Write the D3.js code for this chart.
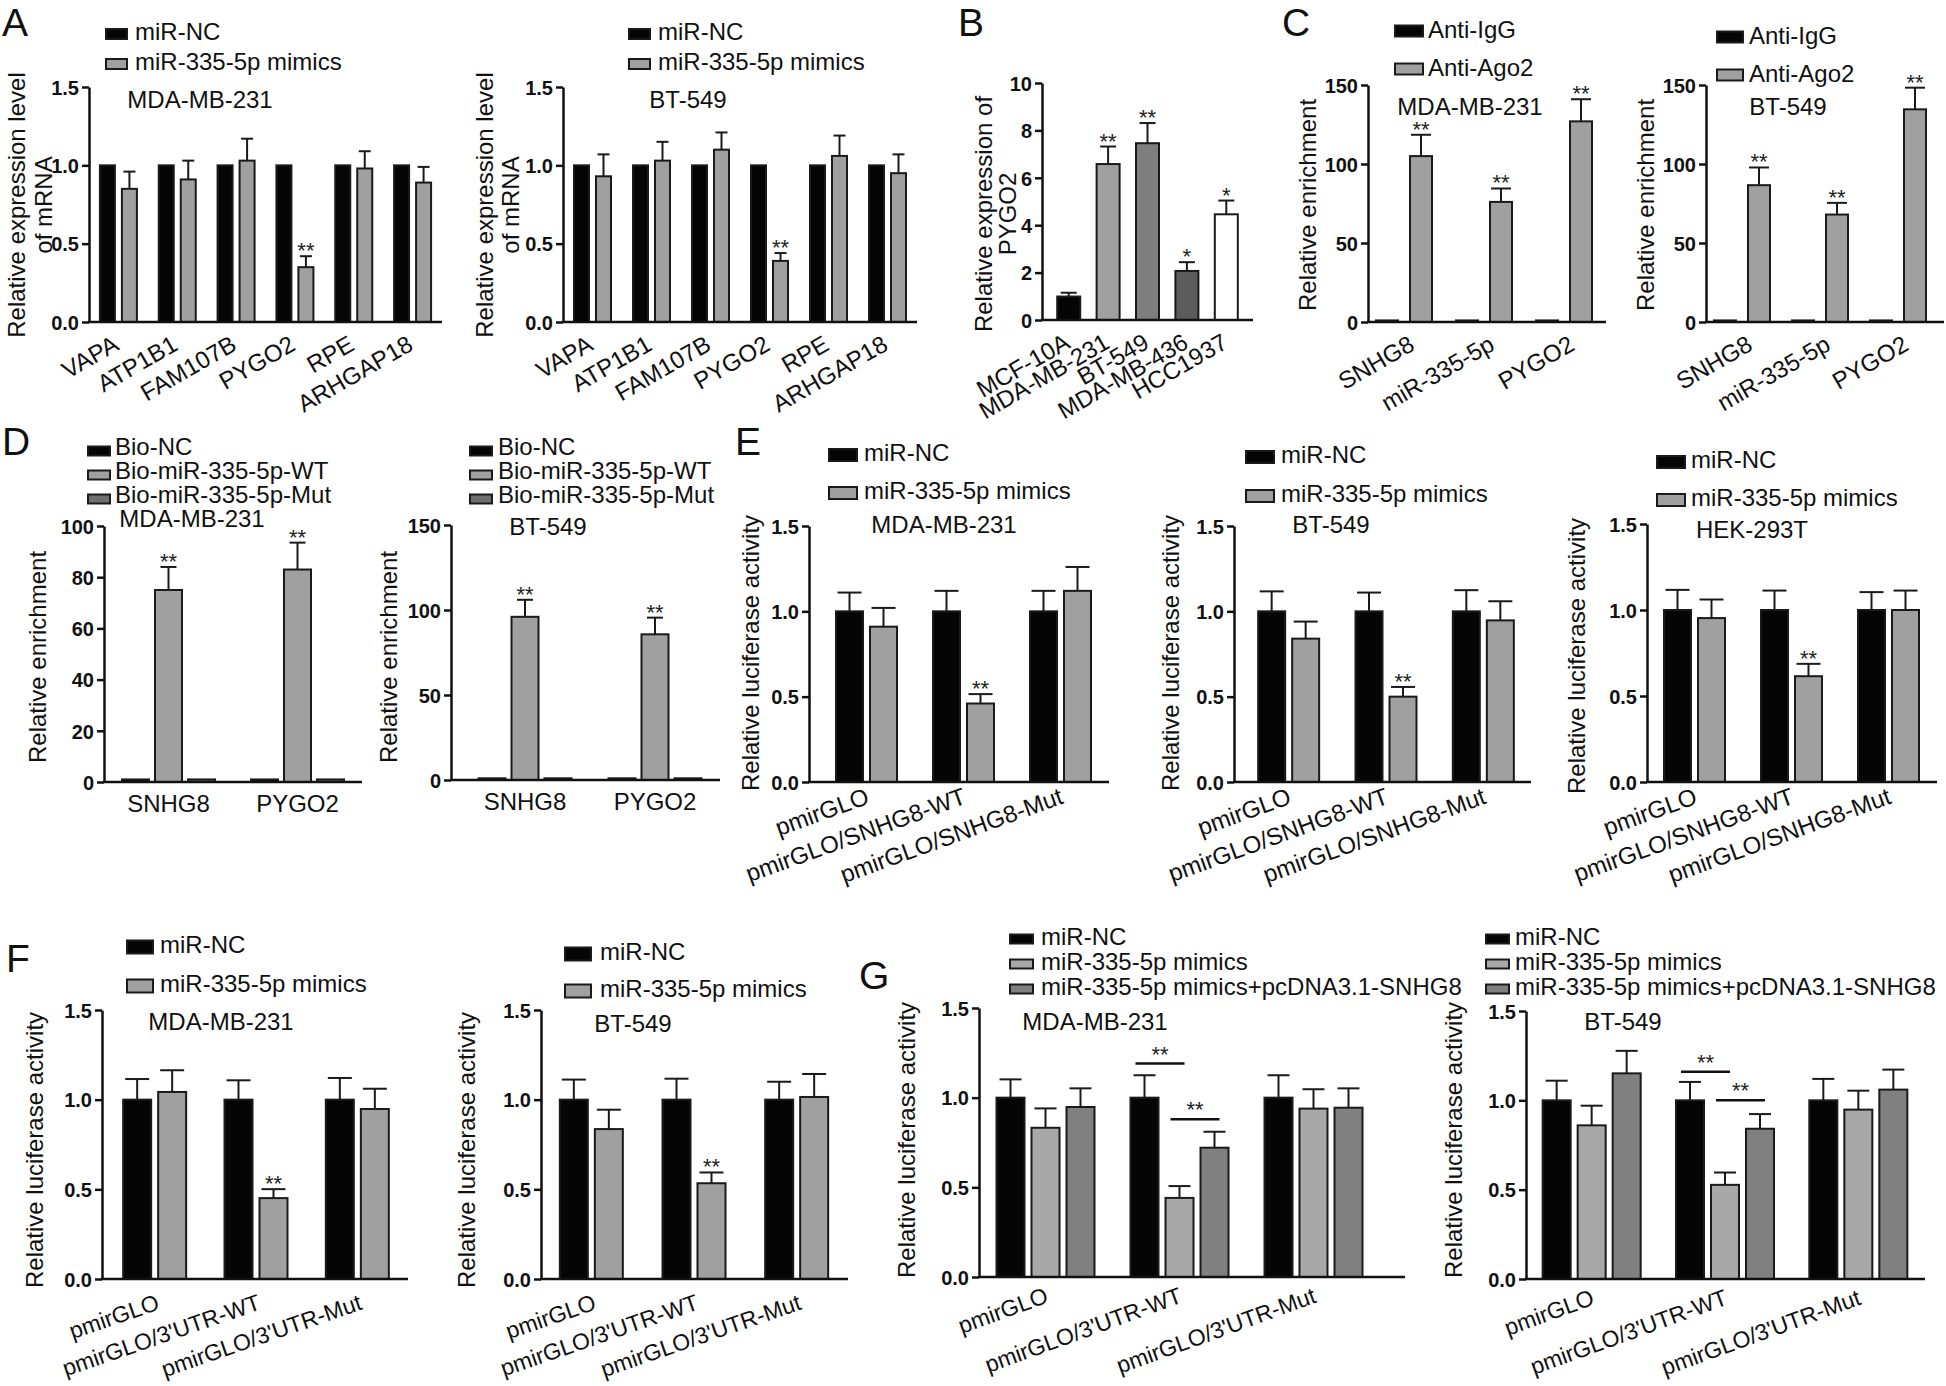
<!DOCTYPE html>
<html>
<head>
<meta charset="utf-8">
<script src="https://cdn.jsdelivr.net/npm/d3@7"></script>
<style>
  body { margin: 0; background: #fff; }
  text { font-family: "Liberation Sans", Arial, Helvetica, sans-serif; }
</style>
</head>
<body>
<svg id="fig"></svg>
<script>
const W = 1946, H = 1386;

// ---- data ----
// A: candidate targets, qPCR after miR-335-5p mimics
const genes = ["VAPA", "ATP1B1", "FAM107B", "PYGO2", "RPE", "ARHGAP18"];
const aMdaNC = [1, 1, 1, 1, 1, 1];
const aMdaMim = [0.85, 0.91, 1.03, 0.35, 0.98, 0.89];
const aMdaMimErr = [0.11, 0.12, 0.14, 0.07, 0.11, 0.10];
const aBtNC = [1, 1, 1, 1, 1, 1];
const aBtMim = [0.93, 1.03, 1.10, 0.39, 1.06, 0.95];
const aBtMimErr = [0.14, 0.12, 0.11, 0.05, 0.13, 0.12];
const aStars = ["", "", "", "**", "", ""];

// B: PYGO2 expression in cell lines
const cellLines = ["MCF-10A", "MDA-MB-231", "BT-549", "MDA-MB-436", "HCC1937"];
const bPygo2 = [0.99, 6.58, 7.46, 2.07, 4.46];
const bPygo2Err = [0.16, 0.74, 0.85, 0.37, 0.58];
const bStars = ["", "**", "**", "*", "*"];

// C: RIP
const ripTargets = ["SNHG8", "miR-335-5p", "PYGO2"];
const cMdaIgG = [1, 1, 1];
const cMdaAgo2 = [105, 76, 127];
const cMdaAgo2Err = [13.5, 8.5, 14];
const cBtIgG = [1, 1, 1];
const cBtAgo2 = [86.6, 68, 134.6];
const cBtAgo2Err = [11.2, 7.4, 13.7];
const cStars = ["**", "**", "**"];

// D: RNA pull-down
const pullTargets = ["SNHG8", "PYGO2"];
const dMdaNC = [1, 1];
const dMdaWT = [75, 83];
const dMdaWTErr = [9, 10.5];
const dMdaMut = [1, 1];
const dBtNC = [1, 1];
const dBtWT = [96, 85.7];
const dBtWTErr = [10, 9.8];
const dBtMut = [1, 1];
const dStars = ["**", "**"];

// E: luciferase, SNHG8 reporters
const snhgVectors = ["pmirGLO", "pmirGLO/SNHG8-WT", "pmirGLO/SNHG8-Mut"];
const eMdaNC = [1, 1, 1];
const eMdaNCErr = [0.11, 0.12, 0.12];
const eMdaMim = [0.91, 0.46, 1.12];
const eMdaMimErr = [0.11, 0.055, 0.14];
const eBtNC = [1, 1, 1];
const eBtNCErr = [0.117, 0.11, 0.124];
const eBtMim = [0.84, 0.50, 0.947];
const eBtMimErr = [0.10, 0.057, 0.112];
const eHekNC = [1, 1, 1];
const eHekNCErr = [0.117, 0.113, 0.104];
const eHekMim = [0.953, 0.615, 1.0];
const eHekMimErr = [0.108, 0.072, 0.113];
const luxStars = ["", "**", ""];

// F: luciferase, PYGO2 3'UTR reporters
const utrVectors = ["pmirGLO", "pmirGLO/3'UTR-WT", "pmirGLO/3'UTR-Mut"];
const fMdaNC = [1, 1, 1];
const fMdaNCErr = [0.115, 0.108, 0.121];
const fMdaMim = [1.043, 0.451, 0.948];
const fMdaMimErr = [0.121, 0.05, 0.113];
const fBtNC = [1, 1, 1];
const fBtNCErr = [0.112, 0.117, 0.10];
const fBtMim = [0.836, 0.534, 1.015];
const fBtMimErr = [0.108, 0.06, 0.128];

// G: rescue with pcDNA3.1-SNHG8
const gMdaNC = [1, 1, 1];
const gMdaNCErr = [0.102, 0.125, 0.125];
const gMdaMim = [0.832, 0.441, 0.939];
const gMdaMimErr = [0.108, 0.066, 0.108];
const gMdaRes = [0.948, 0.721, 0.944];
const gMdaResErr = [0.104, 0.089, 0.108];
const gBtNC = [1, 1, 1];
const gBtNCErr = [0.11, 0.103, 0.12];
const gBtMim = [0.86, 0.527, 0.948];
const gBtMimErr = [0.11, 0.069, 0.106];
const gBtRes = [1.151, 0.841, 1.06];
const gBtResErr = [0.126, 0.082, 0.112];
const gMdaBracketY = [1.19, 0.88];
const gBtBracketY = [1.16, 1.0];

const BLACK = "#050505", GRAY = "#a0a0a0", LGRAY = "#a8a8a8", DGRAY = "#808080";

const svg = d3.select("#fig").attr("width", W).attr("height", H);
svg.append("rect").attr("width", W).attr("height", H).attr("fill", "#fff");

function panel(c) {
  const g = svg.append("g");
  const y = d3.scaleLinear().domain([0, c.yMax]).range([c.yZero, c.yTop]);
  const x = d3.scaleBand().domain(c.cats).range(c.band);
  const n = c.series.length;
  const step = c.barW + c.gap;
  const barX = (si, i) => x(c.cats[i]) + x.bandwidth() / 2 + (si - (n - 1) / 2) * step;

  c.series.forEach((s, si) => {
    s.vals.forEach((v, i) => {
      const cx = barX(si, i);
      const fill = Array.isArray(s.fill) ? s.fill[i] : s.fill;
      g.append("rect")
        .attr("x", cx - c.barW / 2 + 1).attr("width", c.barW - 2)
        .attr("y", y(v)).attr("height", Math.max(0.5, c.yZero - y(v)))
        .attr("fill", fill).attr("stroke", "#1a1a1a").attr("stroke-width", 2);
      let top = y(v);
      if (s.err && s.err[i] > 0) {
        top = y(v + s.err[i]);
        g.append("line").attr("x1", cx).attr("x2", cx).attr("y1", y(v)).attr("y2", top)
          .attr("stroke", "#1a1a1a").attr("stroke-width", 2);
        g.append("line").attr("x1", cx - c.capW / 2).attr("x2", cx + c.capW / 2)
          .attr("y1", top).attr("y2", top).attr("stroke", "#1a1a1a").attr("stroke-width", 2);
      }
      if (s.stars && s.stars[i]) {
        g.append("text").attr("x", cx).attr("y", top + 2).attr("text-anchor", "middle")
          .attr("font-size", 22).attr("fill", "#222").text(s.stars[i]);
      }
    });
  });

  // significance brackets (panel G)
  if (c.brackets) {
    c.brackets.forEach(b => {
      const x1 = barX(b.a, b.group) - 9, x2 = barX(b.b, b.group) + 5, yy = y(b.at);
      g.append("line").attr("x1", x1).attr("x2", x2).attr("y1", yy).attr("y2", yy)
        .attr("stroke", "#111").attr("stroke-width", 2.5);
      g.append("text").attr("x", (x1 + x2) / 2).attr("y", yy - 2).attr("text-anchor", "middle")
        .attr("font-size", 22).attr("fill", "#222").text("**");
    });
  }

  // axes
  g.append("g").attr("transform", `translate(${c.x0},0)`)
    .call(d3.axisLeft(y).tickValues(c.ticks).tickFormat(d3.format(c.fmt))
      .tickSize(7).tickSizeOuter(0).tickPadding(3))
    .call(a => {
      a.select(".domain").attr("stroke", "#111").attr("stroke-width", 2.5);
      a.selectAll(".tick line").attr("stroke", "#111").attr("stroke-width", 2.5);
      a.selectAll(".tick text").attr("font-size", 20).attr("font-weight", "bold")
        .attr("fill", "#111").attr("dy", "0.36em");
    });
  g.append("line").attr("x1", c.x0 - 1).attr("x2", c.axisEnd)
    .attr("y1", c.yZero).attr("y2", c.yZero)
    .attr("stroke", "#111").attr("stroke-width", 2.5);

  // category labels
  c.cats.forEach(cat => {
    const cx = x(cat) + x.bandwidth() / 2;
    const t = g.append("text").attr("font-size", c.xlab.fs || 24).attr("fill", "#111").text(cat);
    if (c.xlab.angle) {
      t.attr("text-anchor", "end")
        .attr("transform", `translate(${cx + c.xlab.dx},${c.yZero + c.xlab.dy}) rotate(${c.xlab.angle})`);
    } else {
      t.attr("text-anchor", "middle").attr("x", cx).attr("y", c.yZero + c.xlab.dy);
    }
  });

  // legend
  if (c.legend) {
    const L = c.legend;
    L.items.forEach((it, k) => {
      const by = L.ys[k];
      g.append("rect").attr("x", L.x + 1).attr("y", by - L.rise - L.sh / 2 + 1)
        .attr("width", L.sw - 2).attr("height", L.sh - 2)
        .attr("fill", it.fill).attr("stroke", "#1a1a1a").attr("stroke-width", 2);
      g.append("text").attr("x", L.tx).attr("y", by).attr("font-size", 24)
        .attr("fill", "#111").text(it.label);
    });
  }

  if (c.title) {
    g.append("text").attr("x", c.title.x).attr("y", c.title.y).attr("text-anchor", "middle")
      .attr("font-size", 24).attr("fill", "#111").text(c.title.text);
  }

  c.ytitle.lines.forEach((ln, k) => {
    g.append("text")
      .attr("transform", `translate(${c.ytitle.xs[k]},${c.ytitle.y}) rotate(-90)`)
      .attr("text-anchor", "middle").attr("dominant-baseline", "central")
      .attr("font-size", 24).attr("fill", "#111").text(ln);
  });
}

const mimLegend = [{ label: "miR-NC", fill: BLACK }, { label: "miR-335-5p mimics", fill: GRAY }];
const ripLegend = [{ label: "Anti-IgG", fill: BLACK }, { label: "Anti-Ago2", fill: GRAY }];
const bioLegend = [{ label: "Bio-NC", fill: BLACK }, { label: "Bio-miR-335-5p-WT", fill: GRAY },
  { label: "Bio-miR-335-5p-Mut", fill: "#6e6e6e" }];
const resLegend = [{ label: "miR-NC", fill: BLACK }, { label: "miR-335-5p mimics", fill: LGRAY },
  { label: "miR-335-5p mimics+pcDNA3.1-SNHG8", fill: DGRAY }];
const lucTitle = ["Relative luciferase activity"];
const labA = { angle: -30, dx: 2, dy: 27 };
const labE = { angle: -20, dx: 4, dy: 21 };
const labF = { angle: -19, dx: 6, dy: 30, fs: 23 };
const labG = { angle: -20, dx: 4, dy: 25, fs: 23 };

// ---- A ----
panel({
  x0: 89, axisEnd: 442, band: [89, 442], yZero: 322, yTop: 87, yMax: 1.5,
  ticks: [0, 0.5, 1, 1.5], fmt: ".1f", cats: genes, barW: 17, gap: 5, capW: 12,
  series: [{ vals: aMdaNC, fill: BLACK }, { vals: aMdaMim, err: aMdaMimErr, fill: GRAY, stars: aStars }],
  legend: { x: 105, tx: 135, ys: [40, 70], sw: 23, sh: 12, rise: 6, items: mimLegend },
  title: { text: "MDA-MB-231", x: 200, y: 108 },
  ytitle: { lines: ["Relative expression level", "of mRNA"], xs: [16, 43], y: 205 },
  xlab: labA
});
panel({
  x0: 563, axisEnd: 917, band: [563, 917], yZero: 322, yTop: 87, yMax: 1.5,
  ticks: [0, 0.5, 1, 1.5], fmt: ".1f", cats: genes, barW: 17, gap: 5, capW: 12,
  series: [{ vals: aBtNC, fill: BLACK }, { vals: aBtMim, err: aBtMimErr, fill: GRAY, stars: aStars }],
  legend: { x: 628, tx: 658, ys: [40, 70], sw: 23, sh: 12, rise: 6, items: mimLegend },
  title: { text: "BT-549", x: 688, y: 108 },
  ytitle: { lines: ["Relative expression level", "of mRNA"], xs: [484, 510], y: 205 },
  xlab: labA
});

// ---- B ----
panel({
  x0: 1042, axisEnd: 1253, band: [1049, 1246], yZero: 320, yTop: 83, yMax: 10,
  ticks: [0, 2, 4, 6, 8, 10], fmt: "d", cats: cellLines, barW: 25, gap: 0, capW: 16,
  series: [{ vals: bPygo2, err: bPygo2Err, stars: bStars,
    fill: ["#050505", "#a0a0a0", "#7e7e7e", "#5c5c5c", "#ffffff"] }],
  ytitle: { lines: ["Relative expression of", "PYGO2"], xs: [983, 1007], y: 214 },
  xlab: { angle: -30, dx: 3, dy: 27 }
});

// ---- C ----
panel({
  x0: 1368, axisEnd: 1606, band: [1364, 1604], yZero: 322, yTop: 85, yMax: 150,
  ticks: [0, 50, 100, 150], fmt: "d", cats: ripTargets, barW: 24, gap: 10, capW: 20,
  series: [{ vals: cMdaIgG, fill: BLACK }, { vals: cMdaAgo2, err: cMdaAgo2Err, fill: GRAY, stars: cStars }],
  legend: { x: 1394, tx: 1428, ys: [38, 76], sw: 30, sh: 13, rise: 7, items: ripLegend },
  title: { text: "MDA-MB-231", x: 1470, y: 115 },
  ytitle: { lines: ["Relative enrichment"], xs: [1307], y: 205 },
  xlab: { angle: -30, dx: 12, dy: 27 }
});
panel({
  x0: 1706, axisEnd: 1944, band: [1703, 1937], yZero: 322, yTop: 85, yMax: 150,
  ticks: [0, 50, 100, 150], fmt: "d", cats: ripTargets, barW: 24, gap: 10, capW: 20,
  series: [{ vals: cBtIgG, fill: BLACK }, { vals: cBtAgo2, err: cBtAgo2Err, fill: GRAY, stars: cStars }],
  legend: { x: 1716, tx: 1749, ys: [44, 82], sw: 28, sh: 13, rise: 7, items: ripLegend },
  title: { text: "BT-549", x: 1788, y: 115 },
  ytitle: { lines: ["Relative enrichment"], xs: [1645], y: 205 },
  xlab: { angle: -30, dx: 12, dy: 27 }
});

// ---- D ----
panel({
  x0: 104, axisEnd: 362, band: [104, 362], yZero: 782, yTop: 526, yMax: 100,
  ticks: [0, 20, 40, 60, 80, 100], fmt: "d", cats: pullTargets, barW: 29, gap: 4, capW: 16,
  series: [{ vals: dMdaNC, fill: BLACK }, { vals: dMdaWT, err: dMdaWTErr, fill: GRAY, stars: dStars },
    { vals: dMdaMut, fill: "#6e6e6e" }],
  legend: { x: 87, tx: 115, ys: [455, 479, 503], sw: 24, sh: 11, rise: 4, items: bioLegend },
  title: { text: "MDA-MB-231", x: 192, y: 527 },
  ytitle: { lines: ["Relative enrichment"], xs: [37], y: 657 },
  xlab: { dy: 30 }
});
panel({
  x0: 451, axisEnd: 720, band: [460, 720], yZero: 780, yTop: 525, yMax: 150,
  ticks: [0, 50, 100, 150], fmt: "d", cats: pullTargets, barW: 29, gap: 4, capW: 16,
  series: [{ vals: dBtNC, fill: BLACK }, { vals: dBtWT, err: dBtWTErr, fill: GRAY, stars: dStars },
    { vals: dBtMut, fill: "#6e6e6e" }],
  legend: { x: 469, tx: 498, ys: [455, 479, 503], sw: 24, sh: 11, rise: 4, items: bioLegend },
  title: { text: "BT-549", x: 548, y: 535 },
  ytitle: { lines: ["Relative enrichment"], xs: [388], y: 657 },
  xlab: { dy: 30 }
});

// ---- E ----
panel({
  x0: 809, axisEnd: 1109, band: [818, 1109], yZero: 782, yTop: 526, yMax: 1.5,
  ticks: [0, 0.5, 1, 1.5], fmt: ".1f", cats: snhgVectors, barW: 29, gap: 5, capW: 24,
  series: [{ vals: eMdaNC, err: eMdaNCErr, fill: BLACK },
    { vals: eMdaMim, err: eMdaMimErr, fill: GRAY, stars: luxStars }],
  legend: { x: 828, tx: 864, ys: [461, 499], sw: 30, sh: 14, rise: 6, items: mimLegend },
  title: { text: "MDA-MB-231", x: 944, y: 533 },
  ytitle: { lines: lucTitle, xs: [750], y: 653 }, xlab: labE
});
panel({
  x0: 1234, axisEnd: 1531, band: [1240, 1532], yZero: 782, yTop: 526, yMax: 1.5,
  ticks: [0, 0.5, 1, 1.5], fmt: ".1f", cats: snhgVectors, barW: 29, gap: 5, capW: 24,
  series: [{ vals: eBtNC, err: eBtNCErr, fill: BLACK },
    { vals: eBtMim, err: eBtMimErr, fill: GRAY, stars: luxStars }],
  legend: { x: 1245, tx: 1281, ys: [463, 502], sw: 30, sh: 14, rise: 6, items: mimLegend },
  title: { text: "BT-549", x: 1331, y: 533 },
  ytitle: { lines: lucTitle, xs: [1170], y: 653 }, xlab: labE
});
panel({
  x0: 1647, axisEnd: 1937, band: [1646, 1937], yZero: 782, yTop: 524, yMax: 1.5,
  ticks: [0, 0.5, 1, 1.5], fmt: ".1f", cats: snhgVectors, barW: 29, gap: 5, capW: 24,
  series: [{ vals: eHekNC, err: eHekNCErr, fill: BLACK },
    { vals: eHekMim, err: eHekMimErr, fill: GRAY, stars: luxStars }],
  legend: { x: 1656, tx: 1691, ys: [468, 506], sw: 30, sh: 14, rise: 6, items: mimLegend },
  title: { text: "HEK-293T", x: 1752, y: 538 },
  ytitle: { lines: lucTitle, xs: [1576], y: 656 }, xlab: labE
});

// ---- F ----
panel({
  x0: 102, axisEnd: 408, band: [104, 408], yZero: 1279, yTop: 1010, yMax: 1.5,
  ticks: [0, 0.5, 1, 1.5], fmt: ".1f", cats: utrVectors, barW: 30, gap: 5, capW: 24,
  series: [{ vals: fMdaNC, err: fMdaNCErr, fill: BLACK },
    { vals: fMdaMim, err: fMdaMimErr, fill: GRAY, stars: luxStars }],
  legend: { x: 126, tx: 160, ys: [953, 992], sw: 28, sh: 15, rise: 6, items: mimLegend },
  title: { text: "MDA-MB-231", x: 221, y: 1030 },
  ytitle: { lines: lucTitle, xs: [34], y: 1150 }, xlab: labF
});
panel({
  x0: 541, axisEnd: 848, band: [540, 848], yZero: 1279, yTop: 1010, yMax: 1.5,
  ticks: [0, 0.5, 1, 1.5], fmt: ".1f", cats: utrVectors, barW: 30, gap: 5, capW: 24,
  series: [{ vals: fBtNC, err: fBtNCErr, fill: BLACK },
    { vals: fBtMim, err: fBtMimErr, fill: GRAY, stars: luxStars }],
  legend: { x: 564, tx: 600, ys: [960, 997], sw: 28, sh: 15, rise: 6, items: mimLegend },
  title: { text: "BT-549", x: 633, y: 1032 },
  ytitle: { lines: lucTitle, xs: [466], y: 1150 }, xlab: labF
});

// ---- G ----
panel({
  x0: 979, axisEnd: 1405, band: [978.5, 1380.5], yZero: 1277, yTop: 1008, yMax: 1.5,
  ticks: [0, 0.5, 1, 1.5], fmt: ".1f", cats: utrVectors, barW: 30, gap: 5, capW: 22,
  series: [{ vals: gMdaNC, err: gMdaNCErr, fill: BLACK },
    { vals: gMdaMim, err: gMdaMimErr, fill: LGRAY },
    { vals: gMdaRes, err: gMdaResErr, fill: DGRAY }],
  brackets: [{ group: 1, a: 0, b: 1, at: gMdaBracketY[0] }, { group: 1, a: 1, b: 2, at: gMdaBracketY[1] }],
  legend: { x: 1009, tx: 1041, ys: [945, 970, 995], sw: 25, sh: 11, rise: 6, items: resLegend },
  title: { text: "MDA-MB-231", x: 1095, y: 1030 },
  ytitle: { lines: lucTitle, xs: [906], y: 1140 }, xlab: labG
});
panel({
  x0: 1526, axisEnd: 1925, band: [1525, 1925], yZero: 1279, yTop: 1011, yMax: 1.5,
  ticks: [0, 0.5, 1, 1.5], fmt: ".1f", cats: utrVectors, barW: 30, gap: 5, capW: 22,
  series: [{ vals: gBtNC, err: gBtNCErr, fill: BLACK },
    { vals: gBtMim, err: gBtMimErr, fill: LGRAY },
    { vals: gBtRes, err: gBtResErr, fill: DGRAY }],
  brackets: [{ group: 1, a: 0, b: 1, at: gBtBracketY[0] }, { group: 1, a: 1, b: 2, at: gBtBracketY[1] }],
  legend: { x: 1485, tx: 1515, ys: [945, 970, 995], sw: 25, sh: 11, rise: 6, items: resLegend },
  title: { text: "BT-549", x: 1623, y: 1030 },
  ytitle: { lines: lucTitle, xs: [1453], y: 1140 }, xlab: labG
});

// panel letters
const letters = [["A", 2, 36], ["B", 958, 36], ["C", 1282, 36], ["D", 2, 455],
  ["E", 735, 455], ["F", 6, 972], ["G", 859, 989]];
svg.selectAll("text.letter").data(letters).enter().append("text")
  .attr("class", "letter").attr("x", d => d[1]).attr("y", d => d[2])
  .attr("font-size", 39).attr("fill", "#111").text(d => d[0]);
</script>
</body>
</html>
